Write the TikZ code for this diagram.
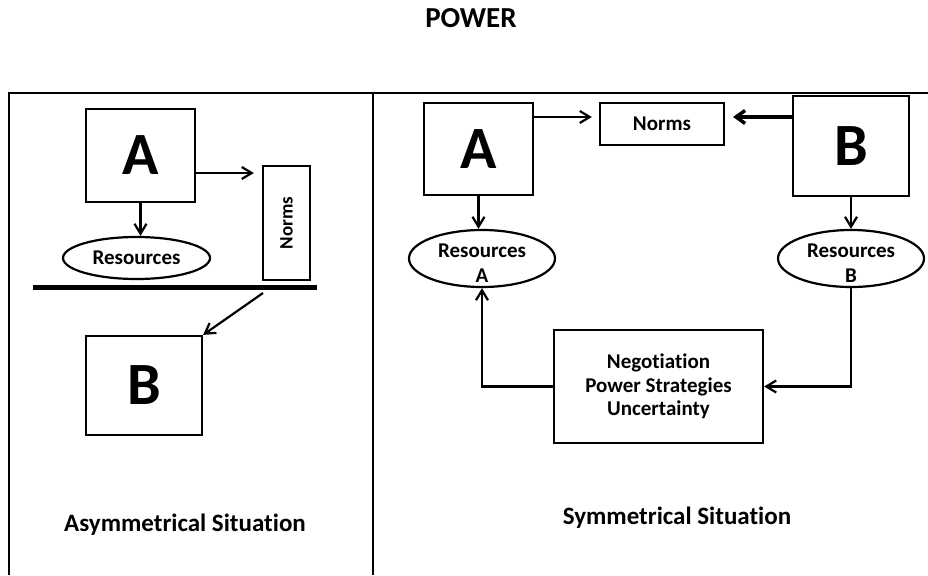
\documentclass[tikz,border=0pt]{standalone}
\usepackage{fontspec}
\setmainfont{Carlito}[Ligatures=NoCommon]
\usepackage{tikz}
\usetikzlibrary{arrows.meta,shapes.geometric,calc}

% two-line text set a little low in its ellipse
\newcommand{\lowpair}[2]{\raisebox{-12pt}[0pt][0pt]{\begin{tabular}{@{}c@{}}#1\\#2\end{tabular}}}

\begin{document}
\begin{tikzpicture}[x=1pt,y=-1pt,
    >={Straight Barb[length=10pt,width=12pt]},
    box/.style={draw,line width=2.2pt,inner sep=0pt},
    agentbox/.style={box,font=\fontsize{60}{60}\selectfont\bfseries},
    labelbox/.style={box,align=center,font=\fontsize{21}{23.5}\selectfont\bfseries},
    resource/.style={ellipse,draw,line width=2.2pt,inner sep=0pt,font=\fontsize{21}{25}\selectfont\bfseries},
    link/.style={->,line width=2.2pt},
    caption/.style={anchor=base,font=\fontsize{25}{25}\selectfont\bfseries}]

\useasboundingbox (0,0) rectangle (928,575);

% =========================
% title and frame
% =========================
\node[anchor=base,font=\fontsize{29}{29}\selectfont\bfseries] (title) at (471,28) {POWER};

\draw[line width=2.2pt] (9,575) -- (9,93) -- (928,93);
\draw[line width=2.2pt] (373,93) -- (373,575);

% =========================
% 1. asymmetrical situation
% =========================
\node[agentbox, minimum width=109, minimum height=93] (aL) at (140.5,155.5) {A};
\node[labelbox, font=\fontsize{19}{19}\selectfont\bfseries, minimum width=47, minimum height=114] (normsL) at (286.5,223) {\rotatebox{90}{Norms}};
\node[resource, minimum width=147, minimum height=42] (resL) at (136.5,258) {Resources};
\node[agentbox, minimum width=116, minimum height=99] (bL) at (144,385.5) {B};

% the barrier line
\draw[line width=5pt] (33,287) -- (317,287);
\coordinate (drop) at (263,293);

\draw[link] ([yshift=-17.5pt]aL.east) -- ([yshift=-17.5pt]aL.east -| normsL.west) [shorten >=8pt];
\draw[link] (aL.south) -- (aL.south |- resL.north);
\draw[link] (drop) -- (bL.north east);

\node[caption] (asym) at (185,531) {Asymmetrical Situation};

% =========================
% 2. symmetrical situation
% =========================
\node[agentbox, minimum width=109, minimum height=92] (aR) at (478.5,149) {A};
\node[labelbox, minimum width=124, minimum height=42] (normsR) at (662,124) {Norms};
\node[agentbox, minimum width=116, minimum height=100] (bR) at (851,146) {B};

\node[resource, minimum width=146, minimum height=57] (resA) at (482,258.5) {\lowpair{Resources}{A}};
\node[resource, minimum width=146, minimum height=57] (resB) at (851,258.5) {\lowpair{Resources}{B}};

\node[labelbox, minimum width=209, minimum height=113] (neg) at (658.5,386.5) {Negotiation\\Power Strategies\\Uncertainty};

% arrows to the norms
\draw[link, shorten >=7pt] ([yshift=32pt]aR.east) -- ([yshift=32pt]aR.east -| normsR.west);
\draw[link, line width=3.5pt, >={Straight Barb[length=9pt,width=13pt]}, shorten >=8pt] ([yshift=29pt]bR.west) -- ([yshift=29pt]bR.west -| normsR.east);

% arrows to the resources
\draw[link] (aR.south) -- (aR.south |- resA.north);
\draw[link] (bR.south) -- (bR.south |- resB.north);

% the loop through negotiation
\draw[link] (neg.west) -| (resA.south);
\draw[link] (resB.south) |- (neg.east);

\node[caption] (sym) at (677,524) {Symmetrical Situation};

\end{tikzpicture}
\end{document}
